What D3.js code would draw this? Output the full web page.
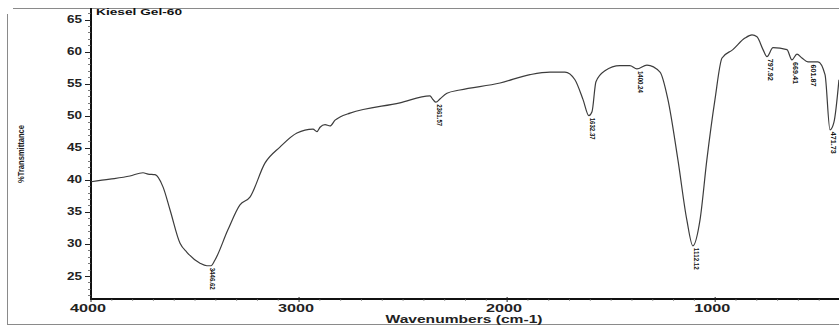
<!DOCTYPE html>
<html>
<head>
<meta charset="utf-8">
<script src="https://cdn.jsdelivr.net/npm/d3@7"></script>
<style>
  html, body { margin: 0; padding: 0; background: #fff; }
  svg { display: block; font-family: "Liberation Sans", Arial, sans-serif; }
</style>
</head>
<body>
<div id="chart"></div>
<script>
// spectrum (wavenumber cm-1, %T)
const wavenumbers = [4000, 3909, 3813, 3750, 3726, 3692, 3654, 3620, 3572, 3539, 3476, 3443, 3423, 3404,
  3342, 3284, 3236, 3164, 3092, 3010, 2933, 2914, 2899, 2875, 2851, 2827, 2803, 2755, 2515, 2371,
  2356, 2342, 2323, 2289, 2227, 2034, 1890, 1794, 1722, 1674, 1635, 1607, 1592, 1573, 1530, 1458,
  1410, 1376, 1328, 1265, 1227, 1179, 1136, 1107, 1073, 1040, 1001, 967, 915, 857, 823, 799, 770,
  751, 722, 655, 631, 607, 583, 554, 506, 472, 448, 429, 405]
const transmittance = [39.7, 40.1, 40.6, 41.1, 40.9, 40.8, 38.9, 35.3, 30.1, 28.7, 27.0, 26.6, 26.6, 27.5,
  32.2, 36.1, 37.3, 42.6, 45.1, 47.3, 47.9, 47.5, 48.2, 48.6, 48.4, 49.3, 49.8, 50.4, 52.0, 53.1,
  52.5, 52.1, 52.6, 53.5, 54.0, 55.1, 56.4, 56.8, 56.8, 55.6, 52.5, 50.0, 50.6, 55.3, 57.0, 57.8,
  57.8, 57.3, 57.9, 56.8, 52.5, 43.1, 33.7, 29.7, 33.7, 43.1, 52.5, 59.0, 60.3, 62.1, 62.6, 62.3, 60.3,
  59.2, 60.6, 60.3, 58.7, 59.6, 59.0, 58.4, 58.4, 56.4, 47.8, 49.0, 55.6]

// peak picks: where the label hangs and what it says
const peakWn = [3433, 2342, 1607, 1376, 1107, 751, 631, 545, 448]
const peakT = [26.6, 52.1, 50.0, 57.3, 29.7, 59.2, 58.7, 58.3, 47.8]
const peakText = ['3446.62', '2361.57', '1632.37', '1400.24', '1112.12', '797.92', '669.41', '601.87', '471.73']

const xTicks = [4000, 3000, 2000, 1000]
const yTicks = [25, 30, 35, 40, 45, 50, 55, 60, 65]

const width = 839
const height = 329

const svg = d3.select('#chart')
  .append('svg')
  .attr('width', width)
  .attr('height', height)

const x = d3.scaleLinear().domain([4000, 400]).range([91, 840])
const y = d3.scaleLinear().domain([25, 65]).range([276, 19.5])

const axisBottomY = 299
const topY = 8

// scanned page frame
const frame = svg.append('g').attr('stroke', '#8a8a8a').attr('stroke-width', 1).attr('fill', 'none')
frame.append('line').attr('x1', 13).attr('x2', width).attr('y1', 8.5).attr('y2', 8.5)
frame.append('line').attr('x1', 7.5).attr('x2', 7.5).attr('y1', 14).attr('y2', 324)
frame.append('line').attr('x1', 7).attr('x2', width).attr('y1', 324.5).attr('y2', 324.5)

// y axis
const yAxis = svg.append('g')
yAxis.append('line')
  .attr('x1', 91).attr('x2', 91)
  .attr('y1', topY).attr('y2', axisBottomY + 1)
  .attr('stroke', '#111').attr('stroke-width', 2)

yAxis.selectAll('.minor')
  .data(d3.range(22, 67, 1).filter((v) => v % 5 !== 0))
  .join('line')
  .attr('x1', 88).attr('x2', 91)
  .attr('y1', (d) => Math.round(y(d)) + 0.5).attr('y2', (d) => Math.round(y(d)) + 0.5)
  .attr('stroke', '#555').attr('stroke-width', 0.8)

yAxis.selectAll('.major')
  .data(yTicks)
  .join('line')
  .attr('x1', 85).attr('x2', 91)
  .attr('y1', (d) => Math.round(y(d)) + 0.5).attr('y2', (d) => Math.round(y(d)) + 0.5)
  .attr('stroke', '#222').attr('stroke-width', 1)

yAxis.selectAll('text')
  .data(yTicks)
  .join('text')
  .attr('x', 82)
  .attr('y', (d) => y(d) + 3.5)
  .attr('text-anchor', 'end')
  .attr('font-size', 10)
  .attr('font-weight', 'bold')
  .attr('fill', '#222')
  .attr('textLength', 15)
  .attr('lengthAdjust', 'spacingAndGlyphs')
  .text((d) => d)

// x axis
const xAxis = svg.append('g')
xAxis.append('line')
  .attr('x1', 90).attr('x2', width)
  .attr('y1', axisBottomY).attr('y2', axisBottomY)
  .attr('stroke', '#111').attr('stroke-width', 2)

xAxis.selectAll('.minor')
  .data(d3.range(500, 4000, 100).filter((v) => v % 1000 !== 0))
  .join('line')
  .attr('x1', (d) => x(d)).attr('x2', (d) => x(d))
  .attr('y1', axisBottomY).attr('y2', axisBottomY + 2)
  .attr('stroke', '#777').attr('stroke-width', 0.7)

xAxis.selectAll('.major')
  .data(xTicks)
  .join('line')
  .attr('x1', (d) => x(d)).attr('x2', (d) => x(d))
  .attr('y1', axisBottomY - 2).attr('y2', axisBottomY + 3)
  .attr('stroke', '#222').attr('stroke-width', 1)

xAxis.selectAll('text')
  .data(xTicks)
  .join('text')
  .attr('x', (d) => x(d) - 3)
  .attr('y', 312)
  .attr('text-anchor', 'middle')
  .attr('font-size', 10)
  .attr('font-weight', 'bold')
  .attr('fill', '#222')
  .attr('textLength', 36)
  .attr('lengthAdjust', 'spacingAndGlyphs')
  .text((d) => d)

svg.append('text')
  .attr('x', 464)
  .attr('y', 323)
  .attr('text-anchor', 'middle')
  .attr('font-size', 10)
  .attr('font-weight', 'bold')
  .attr('fill', '#222')
  .attr('textLength', 157)
  .attr('lengthAdjust', 'spacingAndGlyphs')
  .text('Wavenumbers (cm-1)')

svg.append('text')
  .attr('transform', 'translate(24,154) rotate(-90)')
  .attr('text-anchor', 'middle')
  .attr('font-size', 9)
  .attr('font-weight', 'bold')
  .attr('fill', '#222')
  .attr('textLength', 58)
  .attr('lengthAdjust', 'spacingAndGlyphs')
  .text('%Transmittance')

svg.append('text')
  .attr('x', 96)
  .attr('y', 15)
  .attr('font-size', 9)
  .attr('font-weight', 'bold')
  .attr('fill', '#111')
  .attr('textLength', 86)
  .attr('lengthAdjust', 'spacingAndGlyphs')
  .text('Kiesel Gel-60')

// spectrum
const points = wavenumbers.map((w, i) => [w, transmittance[i]])
const line = d3.line()
  .x((d) => x(d[0]))
  .y((d) => y(d[1]))
  .curve(d3.curveMonotoneX)

svg.append('path')
  .datum(points)
  .attr('fill', 'none')
  .attr('stroke', '#3c3c3c')
  .attr('stroke-width', 1.2)
  .attr('d', line)

// peak labels, vertical, hanging below each dip
svg.append('g')
  .selectAll('text')
  .data(peakText)
  .join('text')
  .attr('transform', (d, i) => `translate(${x(peakWn[i]) + 1},${y(peakT[i]) + 2}) rotate(90)`)
  .attr('font-size', 8)
  .attr('font-weight', 'bold')
  .attr('fill', '#111')
  .attr('textLength', 22)
  .attr('lengthAdjust', 'spacingAndGlyphs')
  .text((d) => d)
</script>
</body>
</html>
